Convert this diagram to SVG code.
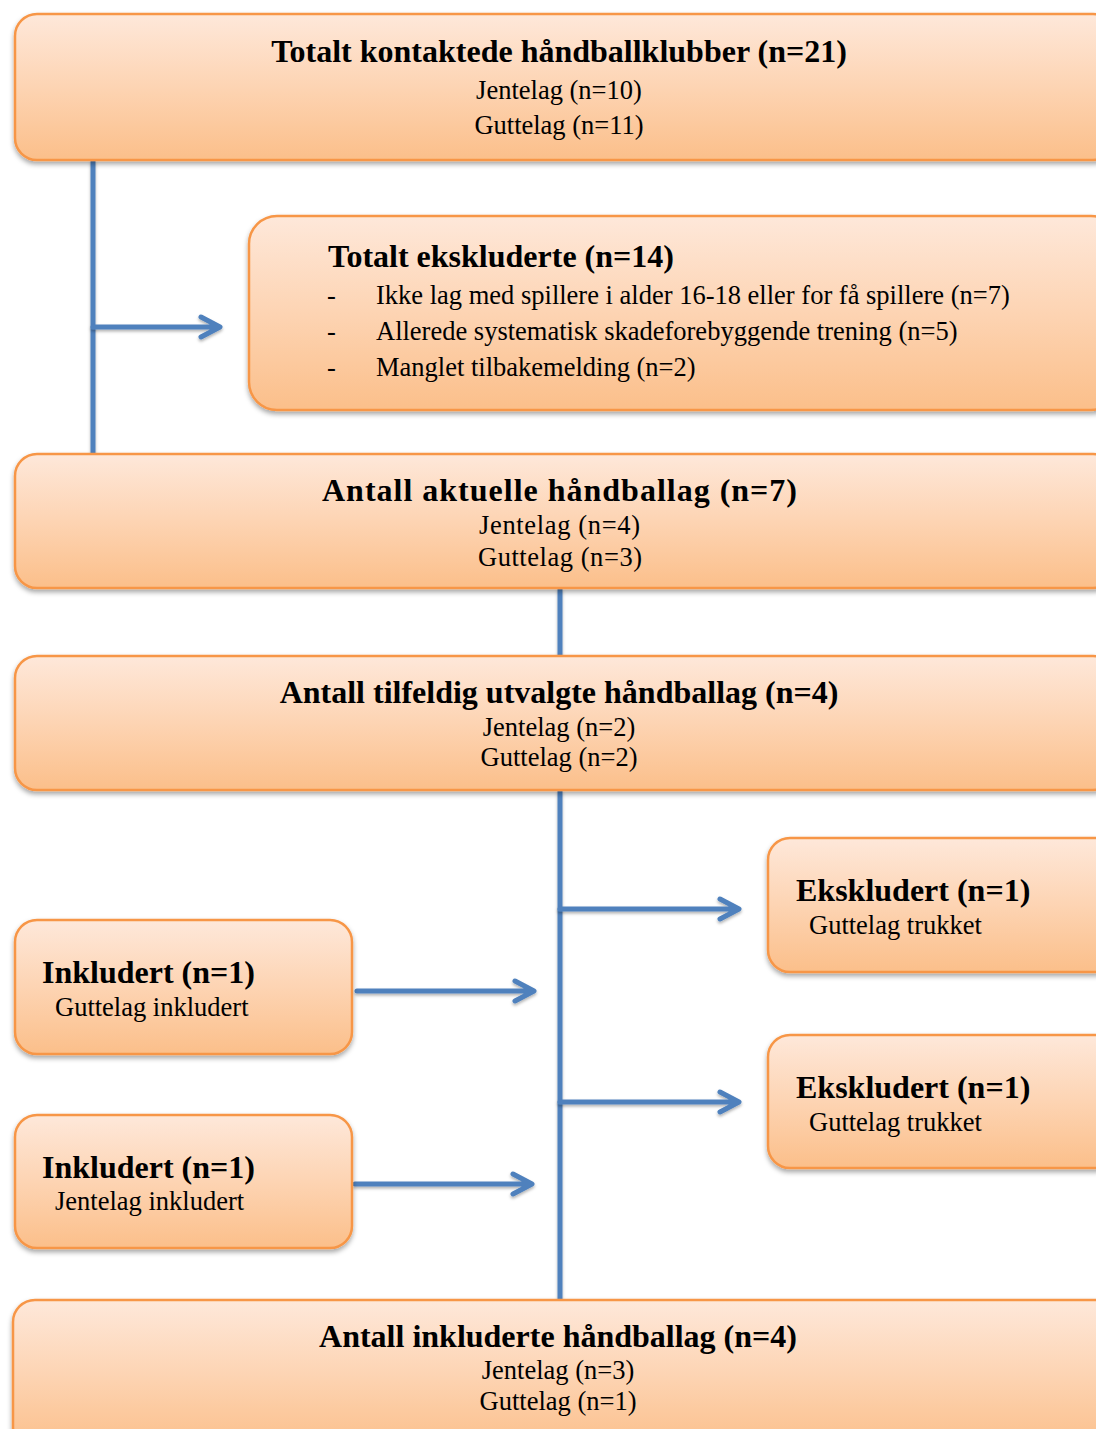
<svg xmlns="http://www.w3.org/2000/svg" width="1096" height="1429" viewBox="0 0 1096 1429">
<style>
.box{fill:url(#g);stroke:#f79646;stroke-width:2.5;filter:url(#sh)}
.t{font-family:"Liberation Serif","Times New Roman",serif;fill:#000}
.b{font-weight:bold;font-size:32px}
.s{font-size:26.5px}
.c{text-anchor:middle}
.ln{stroke:#4f81bd;stroke-width:5;fill:none;filter:url(#sh2)}
.ar{stroke:#4f81bd;stroke-width:5;fill:none;stroke-linecap:round;stroke-linejoin:round;filter:url(#sh2)}
</style>
<defs>
<linearGradient id="g" x1="0" y1="0" x2="0" y2="1">
<stop offset="0" stop-color="#fee8da"/>
<stop offset="0.5" stop-color="#fdd4b3"/>
<stop offset="1" stop-color="#fbbf8a"/>
</linearGradient>
<filter id="sh" x="-5%" y="-10%" width="110%" height="130%">
<feDropShadow dx="0" dy="3" stdDeviation="2.5" flood-color="#000" flood-opacity="0.35"/>
</filter>
<filter id="sh2" filterUnits="userSpaceOnUse" x="0" y="0" width="1096" height="1429">
<feDropShadow dx="0" dy="2" stdDeviation="1.5" flood-color="#000" flood-opacity="0.3"/>
</filter>
</defs>
<g id="connectors">
<path class="ln" d="M93,160 V454"/>
<path class="ar" d="M93,327 H218 M201,317 L220,327 L201,337"/>
<path class="ln" d="M560,588 V656"/>
<path class="ln" d="M560,790 V1300"/>
<path class="ar" d="M560,909 H738 M720,899 L739,909 L720,919"/>
<path class="ar" d="M357,991 H533 M515,981 L534,991 L515,1001"/>
<path class="ar" d="M560,1102 H738 M720,1092 L739,1102 L720,1112"/>
<path class="ar" d="M355,1184 H531 M513,1174 L532,1184 L513,1194"/>
</g>
<g id="n1">
<rect class="box" x="15" y="14" width="1100" height="146" rx="22"/>
<text class="t b c" x="559" y="62">Totalt kontaktede håndballklubber (n=21)</text>
<text class="t s c" x="559" y="99">Jentelag (n=10)</text>
<text class="t s c" x="559" y="134">Guttelag (n=11)</text>
</g>
<g id="n2">
<rect class="box" x="249" y="216" width="870" height="194" rx="28"/>
<text class="t b" x="328" y="267">Totalt ekskluderte (n=14)</text>
<text class="t s" x="327" y="304">-</text>
<text class="t s" x="376" y="304">Ikke lag med spillere i alder 16-18 eller for få spillere (n=7)</text>
<text class="t s" x="327" y="340">-</text>
<text class="t s" x="376" y="340">Allerede systematisk skadeforebyggende trening (n=5)</text>
<text class="t s" x="327" y="376">-</text>
<text class="t s" x="376" y="376">Manglet tilbakemelding (n=2)</text>
</g>
<g id="n3">
<rect class="box" x="15" y="454" width="1100" height="134" rx="22"/>
<text class="t b" x="322" y="501" textLength="475" lengthAdjust="spacing">Antall aktuelle håndballag (n=7)</text>
<text class="t s" x="479" y="534" textLength="161" lengthAdjust="spacing">Jentelag (n=4)</text>
<text class="t s" x="478" y="566" textLength="164" lengthAdjust="spacing">Guttelag (n=3)</text>
</g>
<g id="n4">
<rect class="box" x="15" y="656" width="1100" height="134" rx="22"/>
<text class="t b c" x="559" y="703">Antall tilfeldig utvalgte håndballag (n=4)</text>
<text class="t s c" x="559" y="736">Jentelag (n=2)</text>
<text class="t s c" x="559" y="766">Guttelag (n=2)</text>
</g>
<g id="n5">
<rect class="box" x="768" y="838" width="350" height="134" rx="22"/>
<text class="t b" x="796" y="901">Ekskludert (n=1)</text>
<text class="t s" x="809" y="934">Guttelag trukket</text>
</g>
<g id="n6">
<rect class="box" x="15" y="920" width="337" height="134" rx="22"/>
<text class="t b" x="42" y="983">Inkludert (n=1)</text>
<text class="t s" x="55" y="1016">Guttelag inkludert</text>
</g>
<g id="n7">
<rect class="box" x="768" y="1035" width="350" height="133" rx="22"/>
<text class="t b" x="796" y="1098">Ekskludert (n=1)</text>
<text class="t s" x="809" y="1131">Guttelag trukket</text>
</g>
<g id="n8">
<rect class="box" x="15" y="1115" width="337" height="133" rx="22"/>
<text class="t b" x="42" y="1178">Inkludert (n=1)</text>
<text class="t s" x="55" y="1210">Jentelag inkludert</text>
</g>
<g id="n9">
<rect class="box" x="13" y="1300" width="1105" height="150" rx="22"/>
<text class="t b c" x="558" y="1347">Antall inkluderte håndballag (n=4)</text>
<text class="t s c" x="558" y="1379">Jentelag (n=3)</text>
<text class="t s c" x="558" y="1410">Guttelag (n=1)</text>
</g>
</svg>
